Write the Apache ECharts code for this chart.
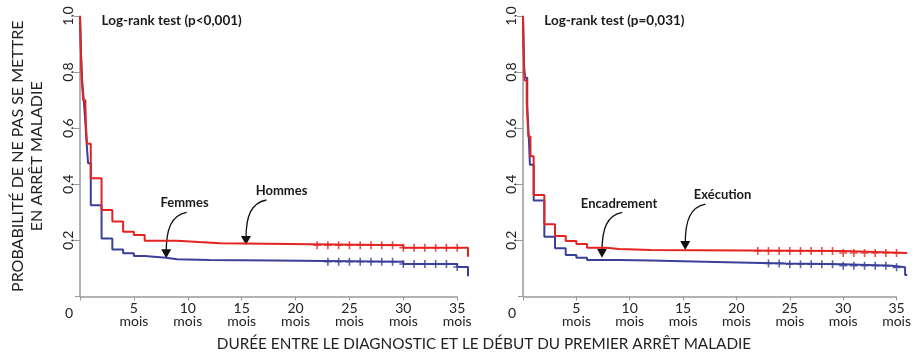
<!DOCTYPE html>
<html>
<head>
<meta charset="utf-8">
<script src="https://cdn.jsdelivr.net/npm/echarts@6/dist/echarts.min.js"></script>
<style>
  html, body { margin: 0; padding: 0; background: #fff; }
  #main { width: 914px; height: 355px; }
</style>
</head>
<body>
<div id="main"></div>
<script>
// courbes de Kaplan-Meier : [mois, probabilité]
const hommes = [[0,1],[0.05,0.92],[0.1,0.85],[0.15,0.78],[0.2,0.75],[0.3,0.70],[0.5,0.685],[0.55,0.61],[0.65,0.545],[1,0.422],[2,0.308],[3,0.267],[4,0.231],[5,0.219],[6,0.199],[9,0.194],[11,0.19],[13,0.183],[30,0.174],[36,0.142]];
const femmes = [[0,1],[0.1,0.86],[0.2,0.77],[0.35,0.70],[0.5,0.62],[0.6,0.555],[0.75,0.475],[1,0.325],[2,0.207],[3,0.168],[4,0.154],[5,0.144],[6,0.138],[8,0.133],[9,0.130],[12,0.128],[18,0.124],[30,0.116],[35,0.105],[36,0.072]];
const execution = [[0,1],[0.05,0.9],[0.1,0.8],[0.15,0.77],[0.35,0.69],[0.5,0.57],[0.7,0.50],[1,0.362],[2,0.258],[3,0.216],[4,0.198],[5,0.187],[6,0.174],[7.8,0.169],[9,0.166],[12,0.162],[30,0.155],[36,0.155]];
const encadrement = [[0,1],[0.1,0.82],[0.2,0.78],[0.4,0.68],[0.55,0.56],[0.65,0.47],[1,0.342],[2,0.213],[3,0.172],[4,0.148],[5,0.138],[6,0.130],[9,0.128],[12,0.123],[18,0.118],[24.6,0.115],[30,0.110],[34.6,0.104],[35.8,0.077],[36,0.077]];

// temps censurés (+)
const censRouge = [22,23,24,25,26,27,28,29,30,31,32,33,34,35];
const censBleu = [23,24,25,26,27,28,29,30,31,32,33,34,35];

const xLabels = [5,10,15,20,25,30,35];
const xTicks = [0,5,10,15,20,25,30,35];
const tests = ['Log-rank test (p<0,001)', 'Log-rank test (p=0,031)'];
const noms = [['Hommes', 'Femmes'], ['Exécution', 'Encadrement']];

// positions des annotations en unités des axes
const posTest = [2.0, 0.985];
const fleches = [
  [ {label:[18.7,0.376], from:[17.3,0.344], to:[15.4,0.184]},
    {label:[9.7,0.333], from:[9.9,0.300], to:[8.0,0.136]} ],
  [ {label:[18.7,0.362], from:[17.1,0.329], to:[15.2,0.166]},
    {label:[9.0,0.330], from:[9.3,0.300], to:[7.4,0.138]} ]
];

const ROUGE = '#e42320';
const BLEU = '#3a3f98';
const font = 'Lato, "Open Sans", sans-serif';

function survieA(courbe, t) {
  let s = courbe[0][1];
  for (const p of courbe) { if (p[0] <= t) s = p[1]; }
  return s;
}

const plus = 'path://M4,0H6V4H10V6H6V10H4V6H0V4H4Z';

const grids = [
  { left: 80, top: 16, width: 388, height: 280.5 },
  { left: 523, top: 16, width: 388, height: 280.5 }
];

const xAxes = grids.map((g, i) => ({
  type: 'value', gridIndex: i, min: 0, max: 36,
  axisLine: { show: false },
  splitLine: { show: false },
  axisTick: { customValues: xTicks, length: 4, lineStyle: { color: '#999' } },
  axisLabel: {
    customValues: xLabels, margin: 5, color: '#222', fontSize: 14, fontFamily: font, lineHeight: 13,
    formatter: v => v + '\nmois'
  }
}));

const yAxes = grids.map((g, i) => ({
  type: 'value', gridIndex: i, min: 0, max: 1, interval: 0.2,
  splitLine: { show: false },
  axisLine: { lineStyle: { color: '#999', width: 1.5 } },
  axisTick: { length: 5, lineStyle: { color: '#999' } },
  axisLabel: {
    rotate: 90, margin: 5, color: '#222', fontSize: 14, fontFamily: font,
    formatter: v => v === 0 ? '' : v.toFixed(1).replace('.', ',')
  },
  name: i === 0 ? 'PROBABILITÉ DE NE PAS SE METTRE\nEN ARRÊT MALADIE' : '',
  nameLocation: 'middle', nameRotate: 90, nameGap: 34,
  nameTextStyle: { color: '#222', fontSize: 16, fontFamily: font, lineHeight: 19 }
}));

const courbes = [[hommes, femmes], [execution, encadrement]];
const series = [];
courbes.forEach((paire, i) => {
  const [rouge, bleu] = paire;
  series.push({
    type: 'line', xAxisIndex: i, yAxisIndex: i, step: 'end', data: bleu,
    showSymbol: false, lineStyle: { color: BLEU, width: 2 }, z: 3,
    markLine: {
      silent: true, symbol: 'none', label: { show: false },
      lineStyle: { color: '#999', width: 1.5, type: 'solid' },
      data: [[{ coord: [0, 0] }, { coord: [35, 0] }]]
    }
  });
  series.push({
    type: 'line', xAxisIndex: i, yAxisIndex: i, step: 'end', data: rouge,
    showSymbol: false, lineStyle: { color: ROUGE, width: 2 }, z: 4
  });
  series.push({
    type: 'scatter', xAxisIndex: i, yAxisIndex: i, symbol: plus, symbolSize: 8,
    itemStyle: { color: BLEU }, z: 5,
    data: censBleu.map(t => [t, survieA(bleu, t)])
  });
  series.push({
    type: 'scatter', xAxisIndex: i, yAxisIndex: i, symbol: plus, symbolSize: 8,
    itemStyle: { color: ROUGE }, z: 5,
    data: censRouge.map(t => [t, survieA(rouge, t)])
  });
});

const chart = echarts.init(document.getElementById('main'));
chart.setOption({
  animation: false,
  grid: grids,
  xAxis: xAxes,
  yAxis: yAxes,
  series: series
});

// annotations (texte et flèches courbes)
const graphic = [{
  type: 'text', x: 484, y: 344,
  style: { text: 'DURÉE ENTRE LE DIAGNOSTIC ET LE DÉBUT DU PREMIER ARRÊT MALADIE',
    fill: '#222', fontSize: 15.3, fontFamily: font, align: 'center', verticalAlign: 'middle' }
}];
const txt = { fill: '#1a1a1a', fontSize: 13, fontWeight: 'bold', fontFamily: font };
for (let i = 0; i < 2; i++) {
  const px = p => chart.convertToPixel({ gridIndex: i }, p);
  const o = chart.convertToPixel({ gridIndex: i }, [0, 0]);
  graphic.push({ type: 'text', x: o[0] - 11, y: o[1] + 17,
    style: Object.assign({}, txt, { text: '0', fontSize: 14, fontWeight: 'normal', fill: '#222', align: 'center', verticalAlign: 'middle' }) });
  const pt = px(posTest);
  graphic.push({ type: 'text', x: pt[0], y: pt[1],
    style: Object.assign({}, txt, { text: tests[i], fontSize: 13.5, align: 'left', verticalAlign: 'middle' }) });
  fleches[i].forEach((f, k) => {
    const l = px(f.label), s = px(f.from), t = px(f.to);
    graphic.push({ type: 'text', x: l[0], y: l[1],
      style: Object.assign({}, txt, { text: noms[i][k], align: 'center', verticalAlign: 'middle' }) });
    graphic.push({ type: 'bezierCurve', silent: true,
      shape: { x1: s[0], y1: s[1], cpx1: t[0] + (s[0] - t[0]) * 0.25, cpy1: s[1] + 3,
               cpx2: t[0], cpy2: s[1] + (t[1] - s[1]) * 0.35, x2: t[0], y2: t[1] - 6 },
      style: { stroke: '#111', lineWidth: 1.3, fill: null } });
    graphic.push({ type: 'polygon', silent: true,
      shape: { points: [[t[0] - 5, t[1] - 9], [t[0] + 5, t[1] - 9], [t[0], t[1]]] },
      style: { fill: '#111' } });
  });
}
chart.setOption({ graphic: graphic });
</script>
</body>
</html>
